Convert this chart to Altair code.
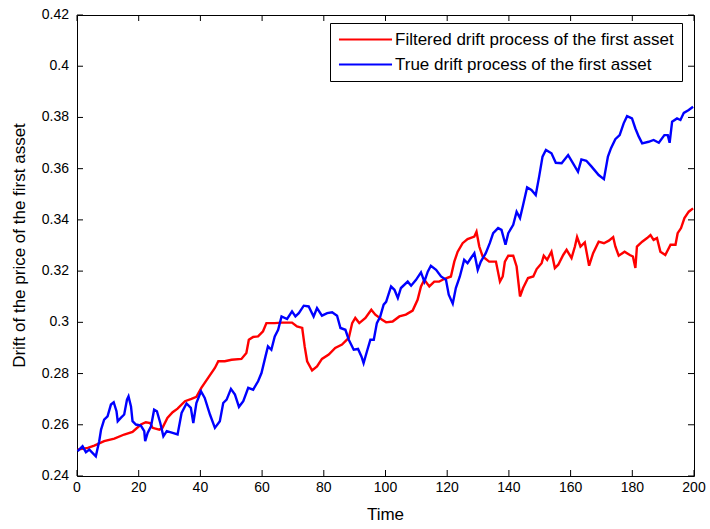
import altair as alt
import pandas as pd

# ---- data ----
filt_t = [0.2, 3.5, 5.6, 8.8, 12.1, 15.3, 18, 20.7, 22.3, 23.7, 24.5, 26.7, 27.7, 29.3, 31, 32.6,
          35, 37.1, 38.7, 40.3, 42.5, 44.7, 45.8, 47.9, 50.1, 53.3, 54.9, 55.7, 57.1, 58.7, 60.3, 61.4, 64.1, 66.3,
          69.7, 71.3, 73, 73.8, 74.6, 76.2, 77.8, 79.4, 81.6, 83.7, 85.9, 88.1, 89.2, 90.2, 91.5, 93.5, 95.4, 96.7, 98.9, 100.2,
          102.3, 104.5, 106.6, 108.8, 110.4, 111.5, 112.6, 114.2, 115.8, 117.4, 119, 121.2, 122.3, 123.4, 125, 126.6, 128.8, 129.5, 130.4, 131.5, 133.6,
          135.8, 137.1, 138, 138.7, 139.8, 141.4, 142.5, 143.6, 144.6, 146.2, 147.9, 149, 150.6, 151.3, 152.4, 153.8, 154.9, 156, 157.6, 158.7, 160.3, 161.4, 162.1, 163.2, 164.6, 166, 167.3,
          169.1, 170.8, 172.4, 173.8, 174.5, 175.6, 177.5, 179.2, 180.2, 181, 181.5, 183.2, 184.8, 185.9, 186.9, 188, 189.1, 190.7, 192.4, 194, 194.7, 195.8, 196.9, 198.3, 199.7]
filt_v = [0.2503, 0.2510, 0.2519, 0.2536, 0.2546, 0.2562, 0.2572, 0.2601, 0.2610, 0.2607, 0.2588, 0.2581, 0.2588, 0.2627, 0.2649, 0.2663,
          0.2692, 0.2701, 0.2709, 0.2744, 0.2783, 0.2822, 0.2848, 0.2848, 0.2854, 0.2857, 0.2880, 0.2932, 0.2943, 0.2945, 0.2965, 0.2997, 0.2997, 0.2999,
          0.2999, 0.2984, 0.2978, 0.2906, 0.2848, 0.2812, 0.2828, 0.2857, 0.2874, 0.2900, 0.2913, 0.2939, 0.2997, 0.3017, 0.2997, 0.3017, 0.3049, 0.3030, 0.3010, 0.3000,
          0.3003, 0.3023, 0.3030, 0.3046, 0.3088, 0.3140, 0.3166, 0.3140, 0.3159, 0.3159, 0.3169, 0.3179, 0.3237, 0.3276, 0.3309, 0.3325, 0.3335, 0.3354, 0.3296, 0.3257, 0.3237,
          0.3237, 0.3159, 0.3179, 0.3237, 0.3260, 0.3260, 0.3218, 0.3101, 0.3134, 0.3173, 0.3179, 0.3208, 0.3231, 0.3260, 0.3244, 0.3276, 0.3212, 0.3225, 0.3263, 0.3283, 0.3251, 0.3296, 0.3333, 0.3296, 0.3312, 0.3221, 0.3270,
          0.3315, 0.3309, 0.3319, 0.3333, 0.3296, 0.3260, 0.3276, 0.3263, 0.3257, 0.3212, 0.3296, 0.3315, 0.3329, 0.3341, 0.3322, 0.3329, 0.3276, 0.3263, 0.3303, 0.3303, 0.3348, 0.3368, 0.3407, 0.3432, 0.3445]

true_t = [0.2, 1.8, 2.9, 4, 6.1, 7.2, 7.8, 8.8, 9.9, 11, 11.9, 12.8, 13.2, 14.2, 15.3, 16.2, 16.7, 17.5, 18, 19.1, 20.7, 21.8, 22.1, 22.9, 24, 25, 25.9, 27, 28, 29.1, 31, 32.6,
          33.9, 35.5, 36.9, 37.7, 38.7, 40.2, 41.4, 43.1, 44.7, 46.3, 47.4, 48.5, 49.9, 51.2, 52.5, 53.9, 55.5, 57.1, 58.7, 59.8, 61.1, 61.9, 63, 64.1, 65.2, 66.3,
          68.1, 69.7, 70.8, 71.9, 73.5, 75.1, 76.7, 77.8, 79.4, 81.1, 82.7, 84.3, 85.4, 87, 88.1, 89.7, 91.1, 92.2, 92.9, 94, 95.1, 96.2, 97.2, 98.3, 99.4, 100.2,
          101.8, 102.9, 104, 105, 107.2, 108.3, 109.9, 111.5, 112.6, 113.7, 114.7, 116.4, 118, 119.6, 120.5, 121.8, 122.8, 124.1, 125.5, 126.6, 127.7, 128.8, 129.9, 130.9, 132.5, 133.8,
          134.9, 136.5, 137.6, 138.9, 139.8, 141.4, 142.5, 143.6, 144.6, 145.9, 147.3, 148.7, 149.8, 150.9, 152, 153.8, 155.2, 157.1, 159.2, 160.8, 162.4, 163.5, 165.1, 166.8,
          169.1, 170.8, 172.1, 173.1, 174.5, 175.9, 177.2, 178.3, 179.9, 181, 182.1, 183.2, 185.3, 186.9, 188.6, 190.4, 191.5, 192.1, 192.9, 194.5, 195.6, 196.7, 198.3, 199.7]
true_v = [0.2497, 0.2516, 0.2493, 0.2503, 0.2477, 0.2536, 0.2581, 0.2620, 0.2633, 0.2679, 0.2688, 0.2653, 0.2614, 0.2627, 0.2640, 0.2698, 0.2711, 0.2672, 0.2614, 0.2601, 0.2597, 0.2575, 0.2536, 0.2568, 0.2594, 0.2659, 0.2653, 0.2607, 0.2555, 0.2575, 0.2568, 0.2562,
          0.2646, 0.2683, 0.2666, 0.2607, 0.2685, 0.2731, 0.2705, 0.2640, 0.2588, 0.2614, 0.2685, 0.2698, 0.2740, 0.2718, 0.2670, 0.2692, 0.2744, 0.2737, 0.2770, 0.2802, 0.2867, 0.2906, 0.2893, 0.2945, 0.2971, 0.3023,
          0.3013, 0.3043, 0.3023, 0.3036, 0.3065, 0.3062, 0.3023, 0.3056, 0.3026, 0.3036, 0.3039, 0.3026, 0.2978, 0.2971, 0.2932, 0.2893, 0.2896, 0.2867, 0.2841, 0.2887, 0.2932, 0.2932, 0.2997, 0.3023, 0.3069, 0.3080,
          0.3140, 0.3127, 0.3095, 0.3134, 0.3159, 0.3143, 0.3166, 0.3195, 0.3159, 0.3198, 0.3221, 0.3205, 0.3179, 0.3166, 0.3108, 0.3073, 0.3134, 0.3179, 0.3244, 0.3231, 0.3251, 0.3270, 0.3205, 0.3237, 0.3270, 0.3309,
          0.3348, 0.3368, 0.3361, 0.3303, 0.3348, 0.3381, 0.3432, 0.3407, 0.3458, 0.3527, 0.3517, 0.3497, 0.3569, 0.3647, 0.3673, 0.3660, 0.3623, 0.3621, 0.3653, 0.3621, 0.3588, 0.3636, 0.3631, 0.3608,
          0.3575, 0.3559, 0.3647, 0.3680, 0.3715, 0.3731, 0.3777, 0.3805, 0.3796, 0.3757, 0.3725, 0.3699, 0.3705, 0.3712, 0.3701, 0.3731, 0.3731, 0.3701, 0.3783, 0.3796, 0.3790, 0.3818, 0.3829, 0.3842]

series_names = ["Filtered drift process of the first asset", "True drift process of the first asset"]
series_colors = ["#ff0000", "#0000ff"]

x_ticks = [0, 20, 40, 60, 80, 100, 120, 140, 160, 180, 200]
y_ticks = [0.24, 0.26, 0.28, 0.30, 0.32, 0.34, 0.36, 0.38, 0.40, 0.42]

x_title = "Time"
y_title = "Drift of the price of the first asset"

# ---- build chart ----
W, H = 617, 461
TICK = 6
FONT = "Liberation Sans"

df_f = pd.DataFrame({"t": filt_t, "v": filt_v, "s": series_names[0]})
df_t = pd.DataFrame({"t": true_t, "v": true_v, "s": series_names[1]})
df_xt = pd.DataFrame({"t": x_ticks})
df_yt = pd.DataFrame({"v": y_ticks})
df_one = pd.DataFrame({"k": [0]})

xs = alt.Scale(domain=[0, 200], nice=False, zero=False)
ys = alt.Scale(domain=[0.24, 0.42], nice=False, zero=False)
X = alt.X("t:Q", scale=xs, axis=None)
Y = alt.Y("v:Q", scale=ys, axis=None)

color = alt.Color(
    "s:N",
    scale=alt.Scale(domain=series_names, range=series_colors),
    legend=alt.Legend(
        title=None, orient="none", legendX=253, legendY=8,
        fillColor="white", strokeColor="black", padding=8,
        symbolType="M-4,0H4", symbolSize=176, symbolStrokeWidth=2, symbolOffset=19,
        labelFont=FONT, labelFontSize=17, labelColor="black", labelOffset=21,
        labelLimit=0, rowPadding=7, zindex=3,
    ),
)

red = alt.Chart(df_f).mark_line(strokeWidth=2.4).encode(x=X, y=Y, color=color)
blue = alt.Chart(df_t).mark_line(strokeWidth=2.4).encode(x=X, y=Y, color=color)

# inward tick marks on all four sides (MATLAB box style)
tick_style = dict(color="black", strokeWidth=1)
top_ticks = alt.Chart(df_xt).mark_rule(**tick_style).encode(
    x=X, y=alt.value(0), y2=alt.value(TICK))
bottom_ticks = alt.Chart(df_xt).mark_rule(**tick_style).encode(
    x=X, y=alt.value(H - TICK), y2=alt.value(H))
left_ticks = alt.Chart(df_yt).mark_rule(**tick_style).encode(
    y=Y, x=alt.value(0), x2=alt.value(TICK))
right_ticks = alt.Chart(df_yt).mark_rule(**tick_style).encode(
    y=Y, x=alt.value(W - TICK), x2=alt.value(W))

# tick labels, driven by the tick arrays through the same scales
text_style = dict(font=FONT, fontSize=14, color="black")
x_labels = alt.Chart(df_xt).mark_text(align="center", baseline="top", **text_style).encode(
    x=X, y=alt.value(H + 5), text=alt.Text("t:Q", format="d"))
y_labels = alt.Chart(df_yt).mark_text(align="right", baseline="middle", **text_style).encode(
    y=Y, x=alt.value(-8), text=alt.Text("v:Q", format=".2~f"))

# axis titles
x_title_mark = alt.Chart(df_one).mark_text(
    align="center", baseline="top", font=FONT, fontSize=17, color="black").encode(
    x=alt.value(W / 2), y=alt.value(H + 31), text=alt.value(x_title))
y_title_mark = alt.Chart(df_one).mark_text(
    align="center", baseline="middle", angle=270, font=FONT, fontSize=17, color="black").encode(
    x=alt.value(-57), y=alt.value(H / 2), text=alt.value(y_title))

chart = alt.layer(
    red, blue, top_ticks, bottom_ticks, left_ticks, right_ticks,
    x_labels, y_labels, x_title_mark, y_title_mark,
).properties(
    width=W, height=H,
    autosize=alt.AutoSizeParams(type="none"),
    padding={"left": 77, "top": 15, "right": 16, "bottom": 53},
    background="white",
).configure_view(stroke="black", strokeWidth=1)

chart.save("out.html", embed_options={"renderer": "svg", "actions": False})
